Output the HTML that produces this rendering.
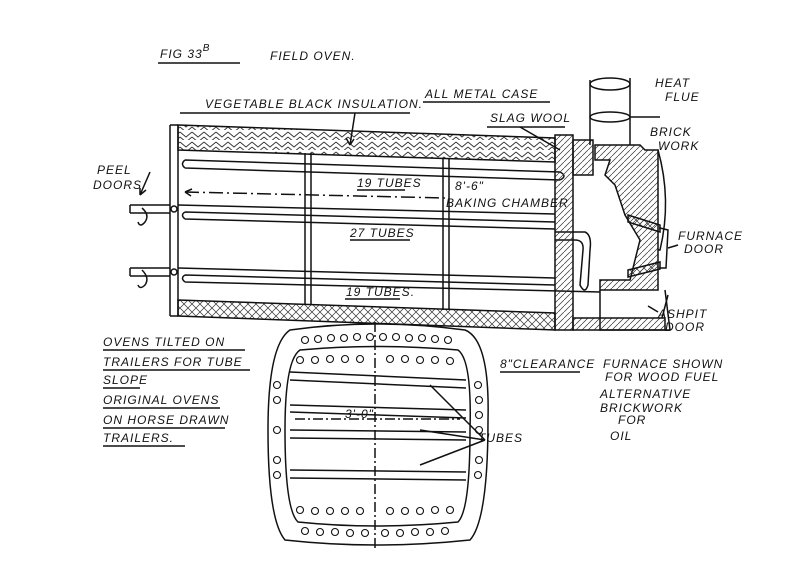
<!DOCTYPE html>
<html><head><meta charset="utf-8"><style>
html,body{margin:0;padding:0;background:#fff}
svg{display:block}
text{font-family:"Liberation Sans",sans-serif;font-style:italic;fill:#111;font-size:12px;letter-spacing:1px}
</style></head><body>
<svg width="800" height="582" viewBox="0 0 800 582" xmlns="http://www.w3.org/2000/svg">
<defs>
<pattern id="zig" width="12" height="10" patternUnits="userSpaceOnUse">
<path d="M0 2 L6 7 L12 2 M0 7 L6 12 L12 7" stroke="#333" stroke-width="0.9" fill="none"/>
</pattern>
<pattern id="cross" width="8" height="8" patternUnits="userSpaceOnUse">
<path d="M0 0 L8 8 M8 0 L0 8" stroke="#333" stroke-width="0.7"/>
</pattern>
<pattern id="diag" width="6" height="6" patternUnits="userSpaceOnUse">
<path d="M0 6 L6 0" stroke="#333" stroke-width="0.7"/>
</pattern>
</defs>
<g stroke="#111" stroke-width="1.5" fill="none">
<line x1="158" y1="63" x2="240" y2="63"/>
<polygon points="178,125 555,138 555,162 178,150" fill="url(#zig)"/>
<polygon points="178,300 555,313 555,330 178,316" fill="url(#cross)"/>
<line x1="170" y1="125" x2="170" y2="316"/>
<line x1="178" y1="125" x2="178" y2="316"/>
<line x1="170" y1="125" x2="178" y2="125"/>
<line x1="170" y1="316" x2="178" y2="316"/>
<path d="M185 160 L560 172 M185 168 L560 180 M185 160 Q180 164 185 168"/>
<path d="M178 205 L555 214 M185 212 L555 222 M185 219 L555 229 M185 212 Q180 215 185 219"/>
<path d="M178 268 L555 278 M185 275 L555 285 M185 282 L600 292 M185 275 Q180 278 185 282"/>
<path d="M560 172 Q568 176 560 180"/>
<path d="M555 232 L585 232 Q592 235 590 250 L588 285 Q585 295 580 285 L583 250 Q584 240 575 240 L555 240"/>
<line x1="305" y1="153" x2="305" y2="305"/><line x1="311" y1="153" x2="311" y2="305"/>
<line x1="443" y1="158" x2="443" y2="310"/><line x1="449" y1="158" x2="449" y2="310"/>
<path d="M130 205 L170 205 M130 213 L170 213 M130 205 L130 213"/>
<path d="M130 268 L170 268 M130 276 L170 276 M130 268 L130 276"/>
<path d="M142 208 Q150 215 145 222 Q140 228 138 222"/>
<path d="M142 270 Q150 278 145 285 Q140 290 138 285"/>
<circle cx="174" cy="209" r="3"/><circle cx="174" cy="272" r="3"/>
<path d="M150 172 L140 195 M140 195 L140 188 M140 195 L146 190"/>
<path d="M185 192 L445 198" stroke-dasharray="14,4,2,4"/>
<path d="M185 192 L192 189 M185 192 L191 196"/>
<rect x="555" y="135" width="18" height="195" fill="url(#diag)"/>
<rect x="573" y="140" width="20" height="35" fill="url(#diag)"/>
<line x1="590" y1="80" x2="590" y2="145"/><line x1="630" y1="78" x2="630" y2="145"/>
<ellipse cx="610" cy="84" rx="20" ry="6"/>
<ellipse cx="610" cy="117" rx="20" ry="5"/>
<line x1="630" y1="117" x2="660" y2="117"/>
<path d="M595 145 L640 145 L645 150 L658 150 L658 290 L600 290 L600 280 L630 280 L640 240 L625 215 L620 200 L615 185 L605 175 L610 160 L595 160 Z" fill="url(#diag)"/>
<path d="M658 150 Q672 200 660 250 L658 250"/>
<path d="M628 215 L660 225 L660 232 L628 222 Z" fill="url(#cross)"/>
<path d="M628 270 L660 262 L660 269 L628 277 Z" fill="url(#cross)"/>
<path d="M660 228 L668 230 L666 268 L660 268"/>
<path d="M600 290 L600 330 L670 330 L665 290"/>
<rect x="573" y="318" width="92" height="12" fill="url(#diag)"/>
<path d="M668 295 L662 318"/>
<path d="M355 113 L350 145 M350 145 L346 138 M350 145 L354 139"/>
<path d="M520 127 L560 150"/>
<path d="M678 245 L668 248"/>
<path d="M658 312 L648 306"/>
<path d="M180 113 L410 113"/>
<path d="M423 102 L550 102"/>
<path d="M487 127 L565 127"/>
<path d="M357 190 L405 190 M350 240 L410 240 M345 299 L400 299"/>
<path d="M103 350 L245 350 M103 370 L250 370 M103 388 L140 388 M103 408 L220 408 M103 428 L225 428 M103 446 L185 446"/>
<path d="M500 372 L580 372"/>
<path d="M290 330 Q375 318 465 330 Q490 340 488 420 Q488 520 470 540 Q375 550 285 540 Q268 520 268 430 Q268 345 290 330 Z"/>
<path d="M300 350 Q375 343 458 350 Q472 360 470 430 Q470 510 458 522 Q375 530 298 522 Q285 510 285 430 Q285 360 300 350 Z"/>
<line x1="375" y1="322" x2="375" y2="548" stroke-dasharray="10,3,2,3"/>
<path d="M290 372 L466 380 M290 380 L466 388 M290 405 L466 410 M290 412 L466 418 M290 430 L466 432 M290 438 L466 440 M290 470 L466 472 M290 478 L466 480"/>
<path d="M295 419 L460 419" stroke-dasharray="10,3,2,3"/>
<path d="M485 440 L430 385 M485 440 L420 430 M485 440 L420 465"/>
</g>
<g stroke="#111" stroke-width="1.1" fill="none">
<circle cx="305" cy="340" r="3.5"/><circle cx="318" cy="339" r="3.5"/><circle cx="331" cy="338" r="3.5"/><circle cx="344" cy="338" r="3.5"/><circle cx="357" cy="337" r="3.5"/><circle cx="370" cy="337" r="3.5"/><circle cx="383" cy="337" r="3.5"/><circle cx="396" cy="337" r="3.5"/><circle cx="409" cy="338" r="3.5"/><circle cx="422" cy="338" r="3.5"/><circle cx="435" cy="339" r="3.5"/><circle cx="448" cy="340" r="3.5"/>
<circle cx="300" cy="360" r="3.5"/><circle cx="315" cy="360" r="3.5"/><circle cx="330" cy="359" r="3.5"/><circle cx="345" cy="359" r="3.5"/><circle cx="360" cy="359" r="3.5"/><circle cx="390" cy="359" r="3.5"/><circle cx="405" cy="359" r="3.5"/><circle cx="420" cy="360" r="3.5"/><circle cx="435" cy="360" r="3.5"/><circle cx="450" cy="361" r="3.5"/>
<circle cx="478" cy="385" r="3.5"/><circle cx="479" cy="400" r="3.5"/><circle cx="479" cy="415" r="3.5"/><circle cx="479" cy="430" r="3.5"/><circle cx="479" cy="460" r="3.5"/><circle cx="478" cy="475" r="3.5"/>
<circle cx="277" cy="385" r="3.5"/><circle cx="277" cy="400" r="3.5"/><circle cx="277" cy="430" r="3.5"/><circle cx="277" cy="460" r="3.5"/><circle cx="277" cy="475" r="3.5"/>
<circle cx="300" cy="510" r="3.5"/><circle cx="315" cy="511" r="3.5"/><circle cx="330" cy="511" r="3.5"/><circle cx="345" cy="511" r="3.5"/><circle cx="360" cy="511" r="3.5"/><circle cx="390" cy="511" r="3.5"/><circle cx="405" cy="511" r="3.5"/><circle cx="420" cy="511" r="3.5"/><circle cx="435" cy="510" r="3.5"/><circle cx="450" cy="510" r="3.5"/>
<circle cx="305" cy="531" r="3.5"/><circle cx="320" cy="532" r="3.5"/><circle cx="335" cy="532" r="3.5"/><circle cx="350" cy="533" r="3.5"/><circle cx="365" cy="533" r="3.5"/><circle cx="385" cy="533" r="3.5"/><circle cx="400" cy="533" r="3.5"/><circle cx="415" cy="532" r="3.5"/><circle cx="430" cy="532" r="3.5"/><circle cx="445" cy="531" r="3.5"/>
</g>
<text x="160" y="58" font-size="17">FIG 33<tspan font-size="10" dy="-7">B</tspan></text>
<text x="270" y="60" font-size="16">FIELD OVEN.</text>
<text x="205" y="108" font-size="12">VEGETABLE BLACK INSULATION.</text>
<text x="425" y="98">ALL METAL CASE</text>
<text x="490" y="122" font-size="13">SLAG WOOL</text>
<text x="655" y="87" font-size="10">HEAT</text>
<text x="665" y="101" font-size="10">FLUE</text>
<text x="650" y="136" font-size="11">BRICK</text>
<text x="658" y="150" font-size="11">WORK</text>
<text x="97" y="174" font-size="11">PEEL</text>
<text x="93" y="189" font-size="11">DOORS</text>
<text x="357" y="187" font-size="11">19 TUBES</text>
<text x="455" y="190" font-size="12">8'-6"</text>
<text x="446" y="207" font-size="11">BAKING CHAMBER</text>
<text x="350" y="237" font-size="11">27 TUBES</text>
<text x="346" y="296" font-size="11">19 TUBES.</text>
<text x="678" y="240" font-size="10">FURNACE</text>
<text x="684" y="253" font-size="10">DOOR</text>
<text x="658" y="318" font-size="10">ASHPIT</text>
<text x="665" y="331" font-size="10">DOOR</text>
<text x="103" y="346">OVENS TILTED ON</text>
<text x="103" y="366">TRAILERS FOR TUBE</text>
<text x="103" y="384">SLOPE</text>
<text x="103" y="404">ORIGINAL OVENS</text>
<text x="103" y="424">ON HORSE DRAWN</text>
<text x="103" y="442">TRAILERS.</text>
<text x="500" y="368">8"CLEARANCE</text>
<text x="345" y="418" font-size="13">3'-0"</text>
<text x="478" y="442">TUBES</text>
<text x="603" y="368" font-size="11">FURNACE SHOWN</text>
<text x="605" y="381" font-size="10">FOR WOOD FUEL</text>
<text x="600" y="398" font-size="11">ALTERNATIVE</text>
<text x="600" y="412" font-size="11">BRICKWORK</text>
<text x="618" y="424" font-size="10">FOR</text>
<text x="610" y="440" font-size="11">OIL</text>
</svg>
</body></html>
